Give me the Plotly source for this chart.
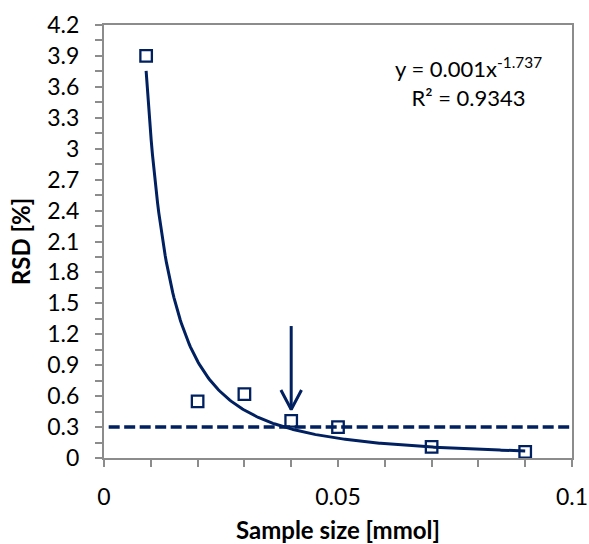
import numpy as np
import plotly.graph_objects as go

# Data
sample_size = [0.009, 0.02, 0.03, 0.04, 0.05, 0.07, 0.09]
rsd = [3.9, 0.55, 0.62, 0.36, 0.30, 0.107, 0.06]

# Power trendline shown on the chart (y = a * x^b)
fit_a = 0.00105
fit_b = -1.737
threshold = 0.3
threshold_x = [0.001, 0.1]
arrow_x = 0.04
arrow_tail = 1.28
arrow_tip = 0.47
head_dx = 0.0022
head_dy = 0.19

x_major = [0, 0.05, 0.1]
x_labels = ["0", "0.05", "0.1"]
y_major = [0, 0.3, 0.6, 0.9, 1.2, 1.5, 1.8, 2.1, 2.4, 2.7, 3, 3.3, 3.6, 3.9, 4.2]
y_labels = ["0", "0.3", "0.6", "0.9", "1.2", "1.5", "1.8", "2.1", "2.4", "2.7", "3", "3.3", "3.6", "3.9", "4.2"]

NAVY = "#002060"
FONT = "Lato"
AXIS_GREY = "#8c8c8c"

xs = np.linspace(min(sample_size), max(sample_size), 300)
ys = fit_a * xs ** fit_b

fig = go.Figure()
fig.add_trace(go.Scatter(x=threshold_x, y=[threshold, threshold], mode="lines",
                         line=dict(color=NAVY, width=3.5, dash="11px,4.5px"), hoverinfo="skip"))
fig.add_trace(go.Scatter(x=xs, y=ys, mode="lines", line=dict(color=NAVY, width=3)))
fig.add_trace(go.Scatter(x=sample_size, y=rsd, mode="markers",
                         marker=dict(symbol="square-open", size=11.5, color=NAVY,
                                     line=dict(width=2.3, color=NAVY))))
# Arrow (shaft + open V head)
fig.add_trace(go.Scatter(
    x=[arrow_x, arrow_x, None, arrow_x - head_dx, arrow_x, arrow_x + head_dx],
    y=[arrow_tail, arrow_tip, None, arrow_tip + head_dy, arrow_tip, arrow_tip + head_dy],
    mode="lines", line=dict(color=NAVY, width=3), hoverinfo="skip"))

fig.add_annotation(x=0.0778, y=3.65, xref="x", yref="y", showarrow=False,
                   xanchor="center", yanchor="middle",
                   text="y = 0.001x<sup>-1.737</sup><br>R² = 0.9343", align="center",
                   font=dict(family=FONT, size=22, color="#000000"))

axis_common = dict(showline=True, linecolor=AXIS_GREY, linewidth=2, ticks="outside",
                   ticklen=7, tickwidth=2, tickcolor=AXIS_GREY, showgrid=False, zeroline=False,
                   mirror=True, automargin=False,
                   tickfont=dict(family=FONT, size=23, color="#000000"))

fig.update_layout(
    width=589, height=544,
    margin=dict(l=104, r=17, t=25, b=86),
    paper_bgcolor="white", plot_bgcolor="white",
    showlegend=False,
    xaxis=dict(range=[0, 0.1], tickmode="array", tickvals=x_major, ticktext=x_labels,
               minor=dict(dtick=0.01, tick0=0, ticks="outside", ticklen=7, tickwidth=2,
                          tickcolor=AXIS_GREY, showgrid=False),
               ticklabelstandoff=10,
               title=dict(text="<b>Sample size [mmol]</b>", font=dict(family=FONT, size=24, color="#000000"),
                          standoff=14),
               **axis_common),
    yaxis=dict(range=[0, 4.2], tickmode="array", tickvals=y_major, ticktext=y_labels,
               minor=dict(dtick=0.15, tick0=0, ticks="outside", ticklen=7, tickwidth=2,
                          tickcolor=AXIS_GREY, showgrid=False),
               ticklabelstandoff=11,
               title=dict(text="<b>RSD [%]</b>", font=dict(family=FONT, size=24, color="#000000"),
                          standoff=10),
               **axis_common),
)

fig.write_html("out.html")
